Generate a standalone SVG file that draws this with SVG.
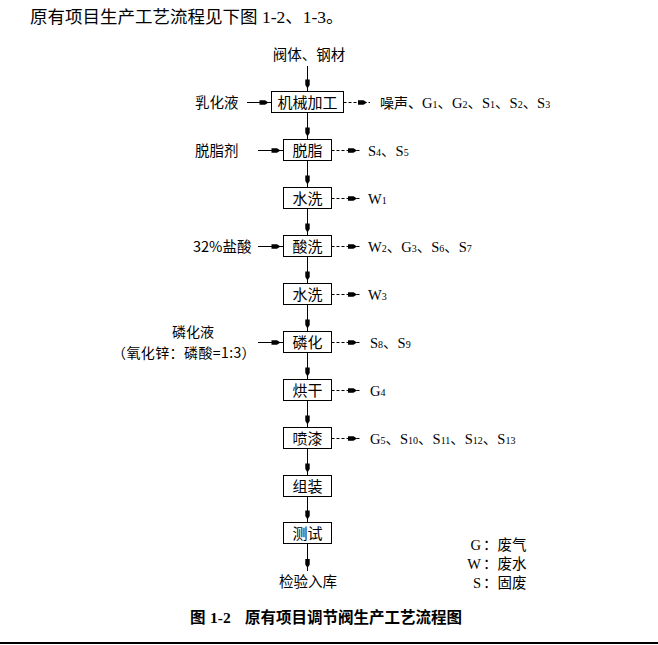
<svg xmlns="http://www.w3.org/2000/svg" width="658" height="645" viewBox="0 0 658 645">
<style>
  .cjk{font-family:"Noto Sans CJK SC",sans-serif;font-size:14.5px;fill:#000}
  .lbl{font-family:"Noto Sans CJK SC",sans-serif;font-size:15px;fill:#000;text-anchor:middle}
  .out{font-family:"Liberation Serif","Noto Sans CJK SC",serif;font-size:14.5px;fill:#000}
  .sub{font-size:10px}
  .box{fill:#fff;stroke:#000;stroke-width:1}
  .ln{stroke:#000;stroke-width:1;fill:none;marker-end:url(#ah)}
  .dash{stroke-dasharray:3 2}
  .ser{font-family:"Liberation Serif",serif}
</style>
<defs>
  <marker id="ah" markerUnits="userSpaceOnUse" viewBox="-10 -3 14 6" markerWidth="14" markerHeight="6" refX="3" refY="0" orient="auto" overflow="visible">
    <path d="M-9,-2.2 L-3.5,-2.2 L0,0 L-3.5,2.2 L-9,2.2 Z" fill="#000"/>
  </marker>
</defs>
<rect width="658" height="645" fill="#fff"/>
<text x="30" y="23" class="cjk" style="font-size:17.5px">原有项目生产工艺流程见下图<tspan class="ser"> 1-2</tspan>、<tspan class="ser">1-3</tspan>。</text>

<g id="connectors">
  <line class="ln" x1="307.5" y1="66" x2="307.5" y2="91.5"/>
  <line class="ln" x1="307.5" y1="112.5" x2="307.5" y2="139.5"/>
  <line class="ln" x1="307.5" y1="160.5" x2="307.5" y2="187.5"/>
  <line class="ln" x1="307.5" y1="208.5" x2="307.5" y2="235.5"/>
  <line class="ln" x1="307.5" y1="256.5" x2="307.5" y2="283.5"/>
  <line class="ln" x1="307.5" y1="304.5" x2="307.5" y2="331.5"/>
  <line class="ln" x1="307.5" y1="352.5" x2="307.5" y2="379.5"/>
  <line class="ln" x1="307.5" y1="400.5" x2="307.5" y2="427.5"/>
  <line class="ln" x1="307.5" y1="448.5" x2="307.5" y2="475.5"/>
  <line class="ln" x1="307.5" y1="496.5" x2="307.5" y2="522.5"/>
  <line class="ln" x1="307.5" y1="543.5" x2="307.5" y2="571"/>
  <line class="ln" x1="247" y1="102.5" x2="271.5" y2="102.5"/>
  <line class="ln" x1="258" y1="150.5" x2="283.5" y2="150.5"/>
  <line class="ln" x1="258" y1="246.5" x2="283.5" y2="246.5"/>
  <line class="ln" x1="258" y1="342.5" x2="283.5" y2="342.5"/>
  <line class="ln dash" x1="343.5" y1="102.5" x2="370" y2="102.5"/>
  <line class="ln dash" x1="331.5" y1="150.5" x2="360" y2="150.5"/>
  <line class="ln dash" x1="331.5" y1="198.5" x2="360" y2="198.5"/>
  <line class="ln dash" x1="331.5" y1="246.5" x2="360" y2="246.5"/>
  <line class="ln dash" x1="331.5" y1="294.5" x2="360" y2="294.5"/>
  <line class="ln dash" x1="331.5" y1="342.5" x2="360" y2="342.5"/>
  <line class="ln dash" x1="331.5" y1="390.5" x2="360" y2="390.5"/>
  <line class="ln dash" x1="331.5" y1="438.5" x2="360" y2="438.5"/>
</g>

<g id="n-start"><text class="cjk" x="309" y="60" text-anchor="middle">阀体、钢材</text></g>
<g id="n-jxjg"><rect class="box" x="271.5" y="91.5" width="72" height="21"/><text class="lbl" x="307.5" y="107.5">机械加工</text></g>
<g id="n-tz"><rect class="box" x="283.5" y="139.5" width="48" height="21"/><text class="lbl" x="307.5" y="155.5">脱脂</text></g>
<g id="n-sx1"><rect class="box" x="283.5" y="187.5" width="48" height="21"/><text class="lbl" x="307.5" y="203.5">水洗</text></g>
<g id="n-sx"><rect class="box" x="283.5" y="235.5" width="48" height="21"/><text class="lbl" x="307.5" y="251.5">酸洗</text></g>
<g id="n-sx2"><rect class="box" x="283.5" y="283.5" width="48" height="21"/><text class="lbl" x="307.5" y="299.5">水洗</text></g>
<g id="n-lh"><rect class="box" x="283.5" y="331.5" width="48" height="21"/><text class="lbl" x="307.5" y="347.5">磷化</text></g>
<g id="n-hg"><rect class="box" x="283.5" y="379.5" width="48" height="21"/><text class="lbl" x="307.5" y="395.5">烘干</text></g>
<g id="n-pq"><rect class="box" x="283.5" y="427.5" width="48" height="21"/><text class="lbl" x="307.5" y="443.5">喷漆</text></g>
<g id="n-zz"><rect class="box" x="283.5" y="475.5" width="48" height="21"/><text class="lbl" x="307.5" y="491.5">组装</text></g>
<g id="n-cs"><rect class="box" x="283.5" y="522.5" width="48" height="21"/><text class="lbl" x="307.5" y="538.5">测试</text></g>
<g id="n-end"><text class="cjk" x="308" y="587" text-anchor="middle">检验入库</text></g>

<g id="in-rhy"><text class="cjk" x="195" y="108">乳化液</text></g>
<g id="in-tzj"><text class="cjk" x="195" y="156">脱脂剂</text></g>
<g id="in-ys"><text class="cjk" x="193" y="252">32%盐酸</text></g>
<g id="in-lhy"><text class="cjk" x="193" y="337" text-anchor="middle" style="font-size:14px">磷化液</text><text class="cjk" x="112" y="357.5" style="font-size:14px;letter-spacing:0.4px">（氧化锌：磷酸=1:3）</text></g>

<g id="out-1"><text class="out" x="380" y="108"><tspan style="font-size:14px">噪声、</tspan>G<tspan class="sub">1</tspan>、G<tspan class="sub">2</tspan>、S<tspan class="sub">1</tspan>、S<tspan class="sub">2</tspan>、S<tspan class="sub">3</tspan></text></g>
<g id="out-2"><text class="out" x="368" y="156">S<tspan class="sub">4</tspan>、S<tspan class="sub">5</tspan></text></g>
<g id="out-3"><text class="out" x="368" y="204">W<tspan class="sub">1</tspan></text></g>
<g id="out-4"><text class="out" x="368" y="252">W<tspan class="sub">2</tspan>、G<tspan class="sub">3</tspan>、S<tspan class="sub">6</tspan>、S<tspan class="sub">7</tspan></text></g>
<g id="out-5"><text class="out" x="368" y="300">W<tspan class="sub">3</tspan></text></g>
<g id="out-6"><text class="out" x="370" y="348">S<tspan class="sub">8</tspan>、S<tspan class="sub">9</tspan></text></g>
<g id="out-7"><text class="out" x="370" y="396">G<tspan class="sub">4</tspan></text></g>
<g id="out-8"><text class="out" x="370" y="444">G<tspan class="sub">5</tspan>、S<tspan class="sub">10</tspan>、S<tspan class="sub">11</tspan>、S<tspan class="sub">12</tspan>、S<tspan class="sub">13</tspan></text></g>

<g id="legend">
  <text class="out" x="481" y="550" text-anchor="end">G</text><text class="cjk" x="483" y="550">：废气</text>
  <text class="out" x="481" y="569" text-anchor="end">W</text><text class="cjk" x="483" y="569">：废水</text>
  <text class="out" x="481" y="588" text-anchor="end">S</text><text class="cjk" x="483" y="588">：固废</text>
</g>

<g id="caption">
  <text class="cjk" x="190" y="623" style="font-size:15.5px;font-weight:bold">图<tspan class="ser" x="210">1-2</tspan><tspan x="245">原有项目调节阀生产工艺流程图</tspan></text>
</g>
<rect x="0" y="642" width="658" height="2" fill="#000"/>
</svg>
